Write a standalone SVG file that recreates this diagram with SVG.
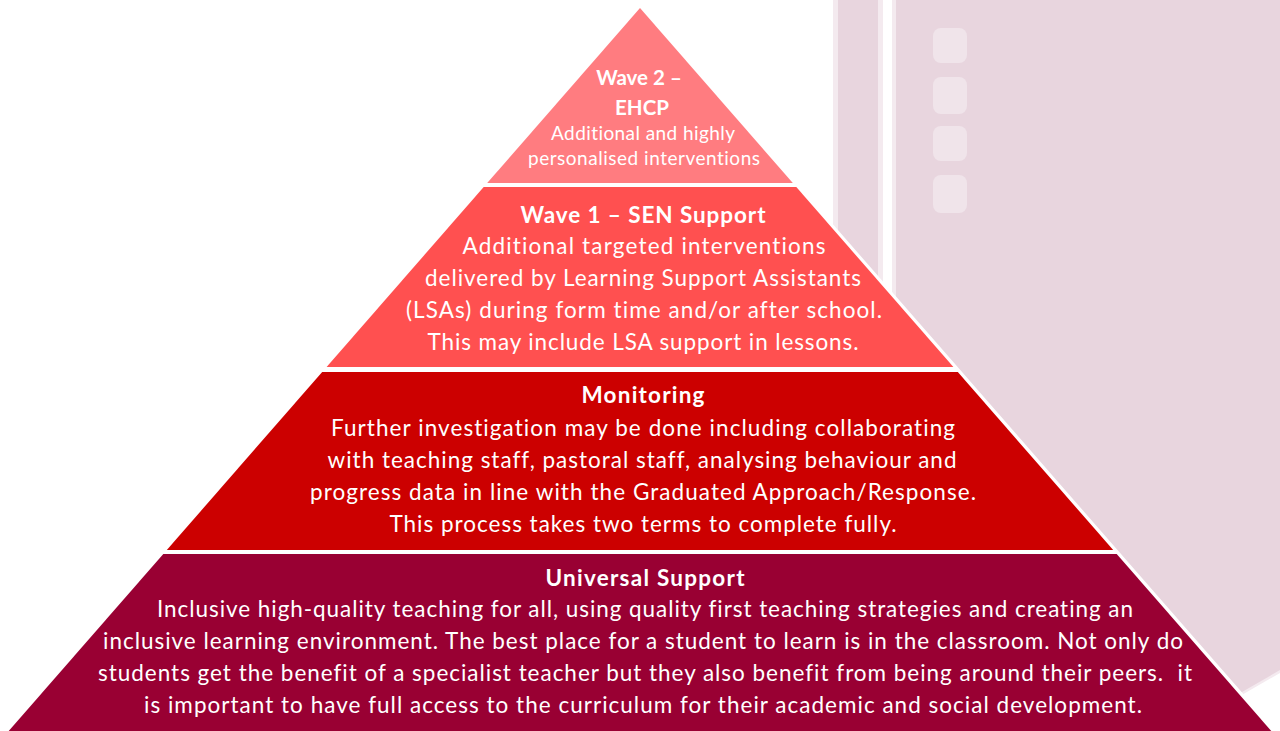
<svg xmlns="http://www.w3.org/2000/svg" width="1280" height="731" viewBox="0 0 1280 731">
  <style>
    .t { font-family: Lato, "Open Sans", "Liberation Sans", sans-serif; fill: #ffffff; text-anchor: middle; font-variant-ligatures: none; }
    .h { font-weight: bold; font-size: 22.5px; }
    .b { font-size: 22.5px; }
    .s { font-size: 19px; }
    .hs { font-weight: bold; font-size: 20.5px; }
    .panel { fill: #e8d5de; }
    .edge { fill: #f4eaef; }
    .dot { fill: #f0e4ea; }
  </style>
  <rect x="0" y="0" width="1280" height="731" fill="#ffffff"/>

  <!-- decorative background panels -->
  <g id="background">
    <rect class="edge" x="833" y="0" width="50" height="700"/>
    <rect class="panel" x="838" y="0" width="40" height="700"/>
    <polygon class="edge" points="892,0 1280,0 1280,673 1240,696 892,696"/>
    <polygon class="panel" points="896,0 1280,0 1280,670 1242,692 896,692"/>
    <rect class="dot" x="933" y="28" width="34" height="35" rx="8"/>
    <rect class="dot" x="933" y="77" width="34" height="37" rx="8"/>
    <rect class="dot" x="933" y="126" width="34" height="35" rx="8"/>
    <rect class="dot" x="933" y="175" width="34" height="38" rx="8"/>
  </g>

  <!-- white halo behind the pyramid -->
  <polygon points="640,8 4,736 1276,736" fill="#ffffff" stroke="#ffffff" stroke-width="6" stroke-linejoin="round"/>

  <g id="wave2">
    <polygon points="640,8 487.2,183 792.8,183" fill="#ff7c80"/>
    <text class="t hs" x="639" y="85">Wave 2 –</text>
    <text class="t hs" x="642" y="115">EHCP</text>
    <text class="t s" x="643" y="140" textLength="184">Additional and highly</text>
    <text class="t s" x="644" y="165" textLength="232">personalised interventions</text>
  </g>

  <g id="wave1">
    <polygon points="483.7,187 796.3,187 953.4,367 326.6,367" fill="#ff5050"/>
    <text class="t h" x="643" y="223" textLength="245">Wave 1 – SEN Support</text>
    <text class="t b" x="644" y="254" textLength="363">Additional targeted interventions</text>
    <text class="t b" x="643" y="286" textLength="436">delivered by Learning Support Assistants</text>
    <text class="t b" x="644" y="318" textLength="476">(LSAs) during form time and/or after school.</text>
    <text class="t b" x="643" y="350" textLength="431">This may include LSA support in lessons.</text>
  </g>

  <g id="monitoring">
    <polygon points="322.2,372 957.8,372 1113.2,550 166.8,550" fill="#cc0000"/>
    <text class="t h" x="643" y="403" textLength="123">Monitoring</text>
    <text class="t b" x="643" y="436" textLength="624">Further investigation may be done including collaborating</text>
    <text class="t b" x="642" y="468" textLength="629">with teaching staff, pastoral staff, analysing behaviour and</text>
    <text class="t b" x="643" y="500" textLength="666">progress data in line with the Graduated Approach/Response.</text>
    <text class="t b" x="643" y="532" textLength="507">This process takes two terms to complete fully.</text>
  </g>

  <g id="universal">
    <polygon points="163.3,554 1116.7,554 1280,741 0,741" fill="#990033"/>
    <text class="t h" x="645" y="586" textLength="199">Universal Support</text>
    <text class="t b" x="645" y="617" textLength="976">Inclusive high-quality teaching for all, using quality first teaching strategies and creating an</text>
    <text class="t b" x="643" y="649" textLength="1080">inclusive learning environment. The best place for a student to learn is in the classroom. Not only do</text>
    <text class="t b" x="645" y="681" textLength="1094" style="white-space:pre">students get the benefit of a specialist teacher but they also benefit from being around their peers.  it</text>
    <text class="t b" x="643" y="713" textLength="998">is important to have full access to the curriculum for their academic and social development.</text>
  </g>
</svg>
